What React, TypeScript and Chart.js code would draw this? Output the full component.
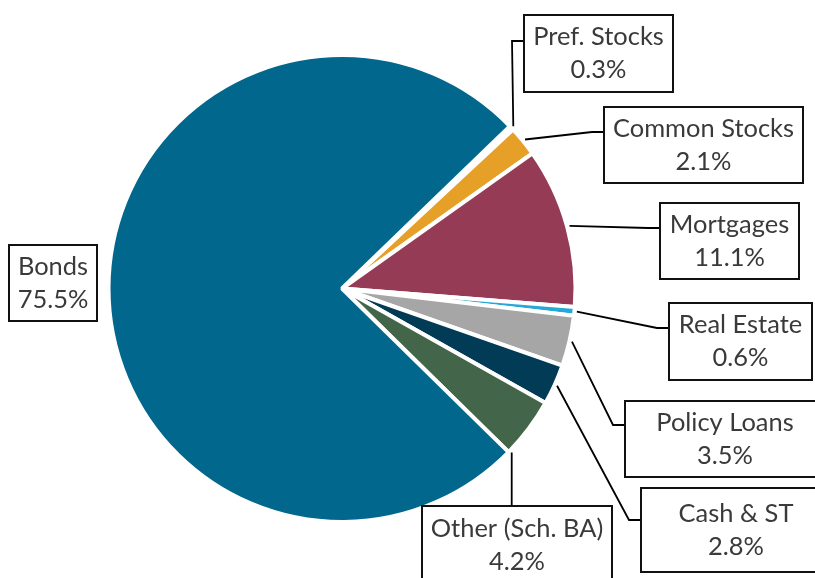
import React, { useEffect, useRef } from "react";
import { Chart, registerables } from "chart.js";

Chart.register(...registerables);

// ---- data ----
const categories = [
  "Pref. Stocks",
  "Common Stocks",
  "Mortgages",
  "Real Estate",
  "Policy Loans",
  "Cash & ST",
  "Other (Sch. BA)",
  "Bonds",
];
const shares = [0.3, 2.1, 11.1, 0.6, 3.5, 2.8, 4.2, 75.5];
const sliceColors = [
  "#FFFFFF",
  "#E69F27",
  "#963B55",
  "#28A8D6",
  "#A6A6A6",
  "#023B55",
  "#43664A",
  "#01678C",
];

// ---- label layout (box rect, leader attach offset from box top, anchor position along slice) ----
type Box = { x: number; y: number; w: number; h: number; attach: number | null; frac: number; mode: "side" | "top" | "none" };
const labelBoxes: Box[] = [
  { x: 524, y: 15, w: 149, h: 77, attach: 26, frac: 0.5, mode: "side" },
  { x: 604, y: 107, w: 199, h: 76, attach: 25, frac: 0.5, mode: "side" },
  { x: 660, y: 203, w: 139, h: 76, attach: 25, frac: 0.5, mode: "side" },
  { x: 669, y: 303, w: 143, h: 77, attach: 25, frac: 0.5, mode: "side" },
  { x: 625, y: 401, w: 200, h: 76, attach: 24, frac: 0.5, mode: "side" },
  { x: 641, y: 488, w: 190, h: 84, attach: 32, frac: 0.5, mode: "side" },
  { x: 422, y: 506, w: 190, h: 78, attach: null, frac: 0.97, mode: "top" },
  { x: 9, y: 245, w: 88, h: 76, attach: null, frac: 0.5, mode: "none" },
];

const labelPlugin = {
  id: "boxedLabels",
  afterDraw(chart: any) {
    const ctx: CanvasRenderingContext2D = chart.ctx;
    const meta = chart.getDatasetMeta(0);
    ctx.save();
    ctx.font = "100px Lato";
    const ref = ctx.measureText("Common Stocks").width;
    const size = (100 * 181) / ref;
    ctx.font = `${size.toFixed(2)}px Lato`;
    ctx.textAlign = "center";
    ctx.textBaseline = "middle";

    meta.data.forEach((arc: any, i: number) => {
      const b = labelBoxes[i];
      const p = arc.getProps(["x", "y", "startAngle", "endAngle", "outerRadius"], true);
      const a = p.startAngle + (p.endAngle - p.startAngle) * b.frac;
      const r = p.outerRadius + 2.5;
      const ax = p.x + Math.cos(a) * r;
      const ay = p.y + Math.sin(a) * r;

      ctx.strokeStyle = "#000000";
      ctx.lineWidth = 1.8;
      if (b.mode === "side" && b.attach !== null) {
        const ty = b.y + b.attach;
        ctx.beginPath();
        ctx.moveTo(ax, ay);
        ctx.lineTo(b.x - 12, ty);
        ctx.lineTo(b.x, ty);
        ctx.stroke();
      } else if (b.mode === "top") {
        ctx.beginPath();
        ctx.moveTo(ax, ay);
        ctx.lineTo(ax, b.y);
        ctx.stroke();
      }

      ctx.fillStyle = "#FFFFFF";
      ctx.fillRect(b.x, b.y, b.w, b.h);
      ctx.lineWidth = 2;
      ctx.strokeStyle = "#111111";
      ctx.strokeRect(b.x, b.y, b.w, b.h);

      const cx = b.x + b.w / 2;
      const cy = b.y + b.h / 2;
      ctx.fillStyle = "#3A3A3A";
      ctx.fillText(categories[i], cx, cy - 16.5);
      ctx.fillText(shares[i].toFixed(1) + "%", cx, cy + 16.5);
    });
    ctx.restore();
  },
};

export default function App() {
  const ref = useRef<HTMLCanvasElement | null>(null);
  useEffect(() => {
    if (!ref.current) return;
    const chart = new Chart(ref.current, {
      type: "pie",
      data: {
        labels: categories,
        datasets: [
          {
            data: shares,
            backgroundColor: sliceColors,
            borderColor: "#FFFFFF",
            borderWidth: 4,
          },
        ],
      },
      options: {
        responsive: false,
        animation: false,
        rotation: 46,
        radius: 233.5,
        layout: { padding: { left: 108.5, right: 239.5, top: 55, bottom: 56 } },
        plugins: {
          legend: { display: false },
          tooltip: { enabled: false },
        },
      } as any,
      plugins: [labelPlugin],
    });
    return () => chart.destroy();
  }, []);
  return (
    <div style={{ position: "fixed", left: 0, top: 0, width: 815, height: 578, background: "#fff" }}>
      <canvas ref={ref} width={815} height={578} style={{ display: "block" }} />
    </div>
  );
}
